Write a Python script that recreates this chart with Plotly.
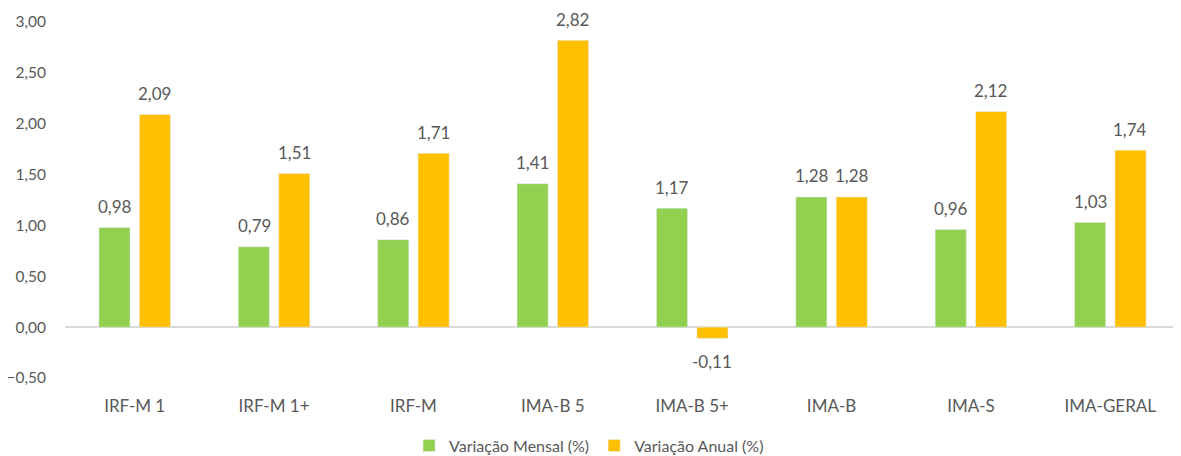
import plotly.graph_objects as go

categories = ["IRF-M 1", "IRF-M 1+", "IRF-M", "IMA-B 5", "IMA-B 5+", "IMA-B", "IMA-S", "IMA-GERAL"]
mensal = [0.98, 0.79, 0.86, 1.41, 1.17, 1.28, 0.96, 1.03]
anual = [2.09, 1.51, 1.71, 2.82, -0.11, 1.28, 2.12, 1.74]
y_ticks = [-0.5, 0, 0.5, 1.0, 1.5, 2.0, 2.5, 3.0]

font_family = "Lato, Open Sans, sans-serif"
gray = "#595959"
fs = 17

fig = go.Figure()
fig.add_trace(go.Bar(x=categories, y=mensal, name="Variação Mensal (%)", marker_color="#92D050"))
fig.add_trace(go.Bar(x=categories, y=anual, name="Variação Anual (%)", marker_color="#FFC000"))

def fmt(v):
    return f"{v:.2f}".replace(".", ",")

for values, xs in ((mensal, -20), (anual, 20)):
    for cat, v in zip(categories, values):
        fig.add_annotation(
            x=cat, y=v, text=fmt(v), showarrow=False,
            xshift=xs, yshift=21 if v >= 0 else -23, yanchor="middle",
            font=dict(size=fs, color=gray, family=font_family),
        )

fig.update_layout(
    width=1173, height=448,
    margin=dict(l=57, r=1, t=14, b=78, autoexpand=False),
    plot_bgcolor="white", paper_bgcolor="white",
    separators=",.",
    bargap=0.42, bargroupgap=0.23,
    font=dict(family=font_family, color=gray, size=fs),
    showlegend=True,
    legend=dict(orientation="h", x=0.47, xanchor="center", y=-0.19, yanchor="middle",
                font=dict(size=16, color=gray), itemwidth=30, traceorder="normal"),
)
fig.update_yaxes(
    range=[-0.5, 3.0], tickvals=y_ticks, tickformat=".2f",
    showgrid=False, zeroline=True, zerolinecolor="#D9D9D9", zerolinewidth=1.5,
    showline=False, ticks="", ticklabelstandoff=18, automargin=False,
    tickfont=dict(size=15.5, color=gray),
)
fig.update_xaxes(
    showgrid=False, showline=False, ticks="", automargin=False,
    tickfont=dict(size=fs, color=gray), ticklabelstandoff=16,
)

fig.write_html("out.html")
